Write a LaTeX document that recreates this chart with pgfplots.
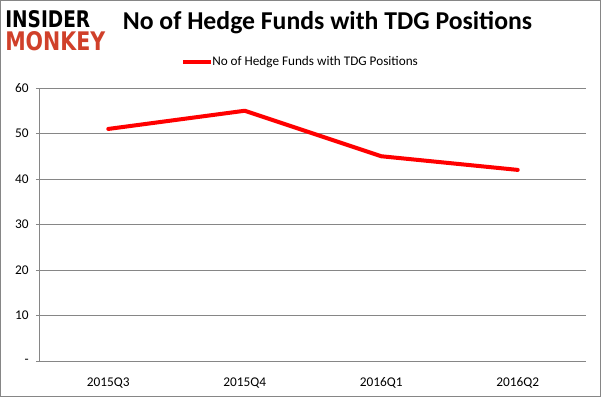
\documentclass[border=0pt]{standalone}
\usepackage{pgfplots}
\pgfplotsset{compat=1.18}
\usepackage{fontspec}
\setmainfont{Carlito}
\newfontfamily\logofont{DejaVu Sans}
\definecolor{gridgray}{RGB}{134,134,134}
\definecolor{logored}{RGB}{208,64,42}
\begin{document}
\begin{tikzpicture}[x=0.75pt,y=0.75pt]
\useasboundingbox (0,0) rectangle (601,397);
\draw[gridgray,line width=0.75pt] (0.5,0.5) rectangle (600.5,396.5);
\begin{axis}[
  at={(30pt,27pt)}, anchor=south west,
  scale only axis, width=409.5pt, height=204.75pt,
  xmin=-0.5, xmax=3.5, ymin=0, ymax=60,
  axis x line*=bottom, axis y line*=left,
  axis line style={gridgray, line width=0.75pt},
  xtick={0,1,2,3},
  xticklabels={2015Q3,2015Q4,2016Q1,2016Q2},
  major x tick style={draw=none},
  extra x ticks={-0.5,0.5,1.5,2.5,3.5},
  extra x tick labels={},
  extra x tick style={major tick length=3pt, tick style={gridgray, line width=0.75pt}, grid=none},
  ytick={0,10,20,30,40,50,60},
  yticklabels={-,10,20,30,40,50,60},
  ymajorgrids,
  major grid style={gridgray, line width=0.75pt},
  tick align=outside,
  major tick length=3pt,
  y tick style={gridgray, line width=0.75pt},
  tick label style={font=\fontsize{10}{11}\selectfont},
  yticklabel style={xshift=-2pt},
  xticklabel style={yshift=-6pt},
  /pgf/number format/assume math mode=true,
  clip=false,
]
\addplot[red, line width=3pt, line cap=round, line join=round] coordinates {(0,51) (1,55) (2,45) (3,42)};
\end{axis}
\node[font=\bfseries\fontsize{19.3}{21}\selectfont, anchor=center] at (327.5,374) {No of Hedge Funds with TDG Positions};
\draw[red, line width=3pt] (183,335) -- (211,335);
\node[anchor=west, inner sep=0pt, font=\fontsize{9.9}{11}\selectfont] at (212,335) {No of Hedge Funds with TDG Positions};
\node[anchor=north west, inner sep=0pt] at (5,387) {\resizebox{63.75pt}{12.75pt}{\logofont\bfseries INSIDER}};
\node[anchor=north west, inner sep=0pt, text=logored] at (5,366) {\resizebox{75pt}{14.25pt}{\logofont\bfseries MONKEY}};
\end{tikzpicture}
\end{document}
